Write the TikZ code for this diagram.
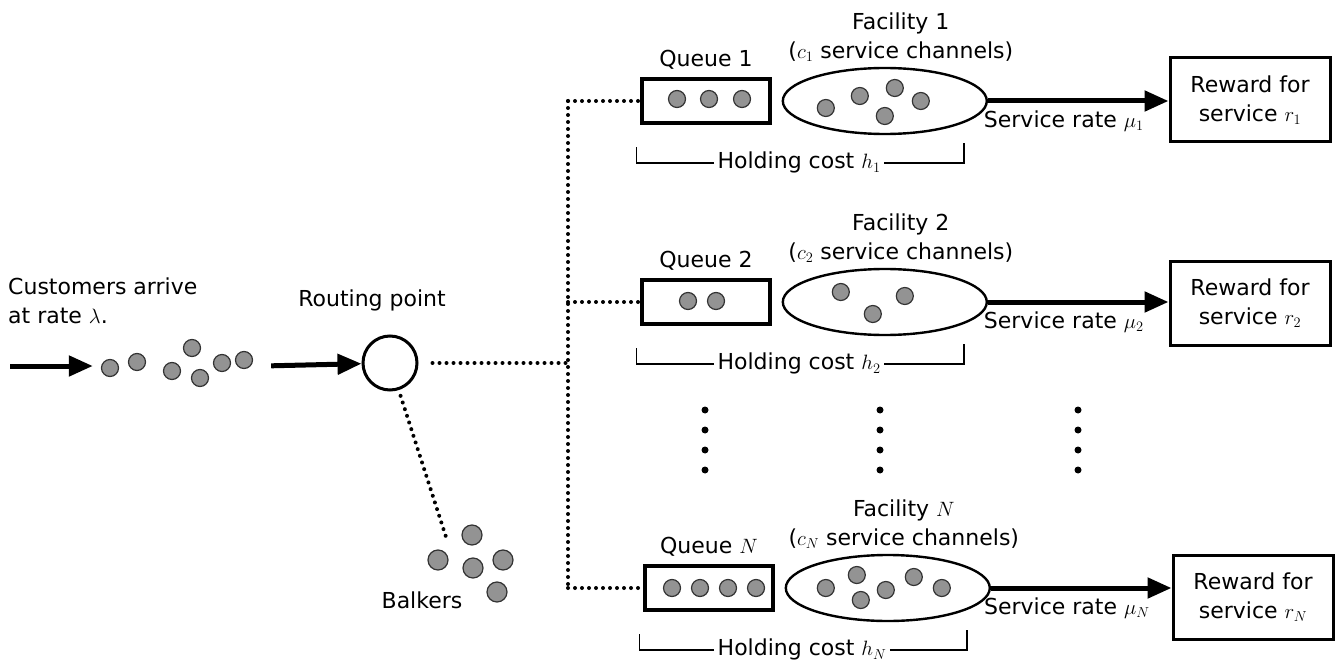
\documentclass[tikz,border=0pt]{standalone}
\usepackage{fontspec}
\setmainfont{DejaVu Sans}
\usepackage{tikz}
\usetikzlibrary{arrows.meta,positioning,calc,shapes.geometric}

\begin{document}
\begin{tikzpicture}[x=1pt, y=-1pt,
  font=\fontsize{22}{29}\selectfont,
  cust/.style={circle, fill=gray!85, draw=gray!40!black, line width=1.2pt, minimum size=17pt, inner sep=0pt},
  queuebox/.style={draw, line width=3.2pt, minimum width=128pt, minimum height=44pt, inner sep=0pt},
  facility/.style={ellipse, draw, line width=2.4pt, minimum width=204pt, minimum height=66pt, inner sep=0pt},
  reward/.style={draw, line width=3pt, minimum width=160pt, minimum height=84pt, align=center, inner sep=2pt},
  flow/.style={line width=5pt, -{Triangle[length=24pt,width=20pt]}},
  dots/.style={line width=4pt, line cap=round, dash pattern=on 0pt off 7pt},
  holding/.style={line width=1.8pt},
  vdot/.style={circle, fill=black, inner sep=0pt, minimum size=7pt}]

  % Frame
  \useasboundingbox (0,0) rectangle (1340,671);

  % Arrivals
  \node[align=left, anchor=north west, inner sep=0pt] (custlbl) at (8,278) {Customers arrive\\at rate $\lambda$.};
  \coordinate (in) at (10,366);
  \node[minimum width=170pt, minimum height=40pt, inner sep=0pt] (crowd) at (178,366) {};
  \foreach \x/\y [count=\i] in {110/368, 137/362, 172/371, 192/348, 200/378, 222/363, 244/360} {
    \node[cust] (a\i) at (\x,\y) {};
  }
  \draw[flow] (in) -- (crowd.west);

  % Routing point
  \node[circle, draw, line width=3pt, minimum size=54pt, inner sep=0pt] (route) at (390,363) {};
  \node (routelbl) at (372,300) {Routing point};
  \draw[flow, shorten <=8pt] (crowd.east) -- (route);

  % Balkers
  \coordinate (balk) at (447,540);
  \foreach \x/\y [count=\i] in {438/560, 472/535, 473/568, 503/560, 497/592} {
    \node[cust, minimum size=20pt] (b\i) at (\x,\y) {};
  }
  \node (balklbl) at (422,600) {Balkers};
  \draw[dots, shorten <=6pt] (route) -- (balk);

  % Queues and facilities
  \node[queuebox] (q1) at (706,101) {};
  \node[facility, right=10pt of q1] (f1) {};
  \node[reward] (r1) at (1250,100) {Reward for\\service $r_1$};

  \node[queuebox] (q2) at (706,302) {};
  \node[facility, right=10pt of q2] (f2) {};
  \node[reward] (r2) at (1250,303) {Reward for\\service $r_2$};

  \node[queuebox] (qN) at (709,588) {};
  \node[facility, right=10pt of qN] (fN) {};
  \node[reward] (rN) at (1253,597) {Reward for\\service $r_N$};

  % Labels above
  \node[above=5pt of q1] (q1lbl) {Queue 1};
  \node[above=2pt of f1, xshift=16pt, align=center] (f1lbl) {Facility 1\\($c_1$ service channels)};
  \node[above=5pt of q2] (q2lbl) {Queue 2};
  \node[above=2pt of f2, xshift=16pt, align=center] (f2lbl) {Facility 2\\($c_2$ service channels)};
  \node[above=5pt of qN] (qNlbl) {Queue $N$};
  \node[above=2pt of fN, xshift=16pt, align=center] (fNlbl) {Facility $N$\\($c_N$ service channels)};

  % Customers in queues
  \foreach \dx [count=\i] in {-29, 3, 36} \node[cust] (q1c\i) at ($(q1)+(\dx,-2)$) {};
  \foreach \dx [count=\i] in {-18, 10} \node[cust] (q2c\i) at ($(q2)+(\dx,-1)$) {};
  \foreach \dx [count=\i] in {-37, -9, 19, 47} \node[cust] (qNc\i) at ($(qN)+(\dx,0)$) {};

  % Customers in service
  \foreach \dx/\dy [count=\i] in {-59/7, -25/-5, 10/-13, 0/15, 36/0} \node[cust] (f1c\i) at ($(f1)+(\dx,\dy)$) {};
  \foreach \dx/\dy [count=\i] in {-44/-10, -12/12, 20/-6} \node[cust] (f2c\i) at ($(f2)+(\dx,\dy)$) {};
  \foreach \dx/\dy [count=\i] in {-62/0, -31/-13, -27/12, -2/2, 26/-11, 54/0} \node[cust] (fNc\i) at ($(fN)+(\dx,\dy)$) {};

  % Service
  \draw[flow] (f1.east) -- (f1.east -| r1.west) node[pos=0.42, below=4pt] (s1lbl) {Service rate $\mu_1$};
  \draw[flow] (f2.east) -- (f2.east -| r2.west) node[pos=0.42, below=4pt] (s2lbl) {Service rate $\mu_2$};
  \draw[flow] (fN.east) -- (fN.east -| rN.west) node[pos=0.42, below=4pt] (sNlbl) {Service rate $\mu_N$};

  % Holding costs
  \node (h1) at ($(q1.south west)!0.5!(f1.south east)+(0,38)$) {Holding cost $h_1$};
  \draw[holding] (h1.west) -| ($(q1.south west)+(-4,22)$);
  \draw[holding] (h1.east) -| ($(f1.south east)+(6,18)$);
  \node (h2) at ($(q2.south west)!0.5!(f2.south east)+(0,38)$) {Holding cost $h_2$};
  \draw[holding] (h2.west) -| ($(q2.south west)+(-4,22)$);
  \draw[holding] (h2.east) -| ($(f2.south east)+(6,18)$);
  \node (hN) at ($(qN.south west)!0.5!(fN.south east)+(0,38)$) {Holding cost $h_N$};
  \draw[holding] (hN.west) -| ($(qN.south west)+(-4,22)$);
  \draw[holding] (hN.east) -| ($(fN.south east)+(6,18)$);

  % Routing lines
  \coordinate (j0) at (568,363);
  \coordinate (j1) at (j0 |- q1);
  \coordinate (j2) at (j0 |- q2);
  \coordinate (jN) at (j0 |- qN);
  \draw[dots, shorten <=14pt] (route) -- (j0);
  \draw[dots] (j1) -- (jN);
  \draw[dots] (j1) -- (q1);
  \draw[dots] (j2) -- (q2);
  \draw[dots] (jN) -- (qN);

  % Vertical ellipses
  \foreach \x in {705, 880, 1078} {
    \foreach \y in {410, 430, 450, 470} {
      \node[vdot] (v\x-\y) at (\x,\y) {};
    }
  }
\end{tikzpicture}
\end{document}
